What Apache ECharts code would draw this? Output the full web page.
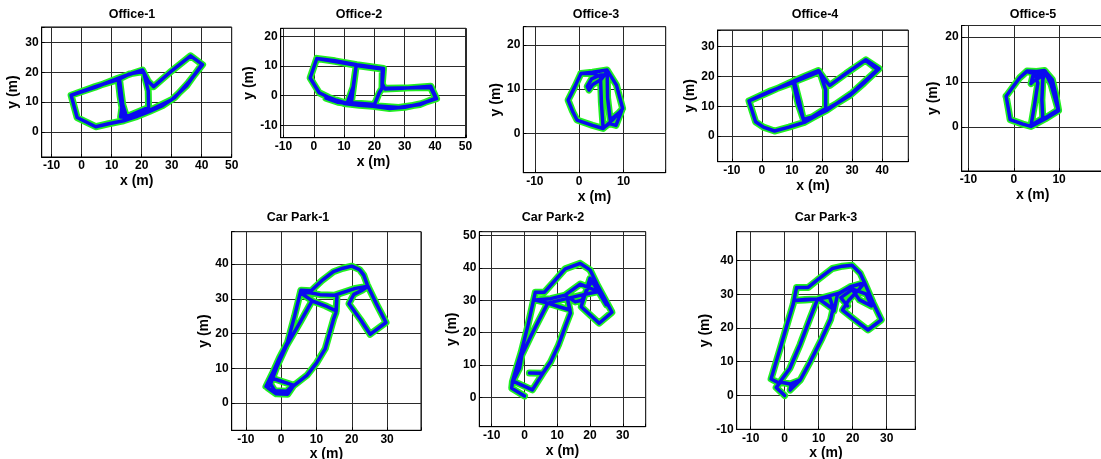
<!DOCTYPE html>
<html><head><meta charset="utf-8">
<script src="https://cdn.jsdelivr.net/npm/echarts@6/dist/echarts.min.js"></script>
<style>html,body{margin:0;padding:0;background:#fff}#c{width:1101px;height:459px}</style>
</head><body><div id="c"></div>
<script>
// ---- data (metres) ----
const titles = ['Office-1','Office-2','Office-3','Office-4','Office-5','Car Park-1','Car Park-2','Car Park-3'];
const office1 = [[-3.5,12.3],[-1.5,4.8],[4.7,1.7],[9,2.7],[14,3.7],[18,5],[22.5,6.8],[27,8.8],[31,11.5],[35.5,16.5],[40.3,22.6],[36.3,25.6],[30,20.5],[24,15.2],[22.2,17],[20.3,20.8],[15.5,19.2],[12.3,18.1],[4.5,15],[-3.5,12.3],[4.5,15.2],[12.2,17.6],[12.8,12],[13.6,7],[14.3,4],[14.6,6.2],[13.6,9.5],[13,5],[15.5,5.3],[22.3,8.2],[22.2,13.8],[20.6,20.3],[16,19.5],[12.6,17.8],[14.2,5.2],[19,6],[23,7.4],[30,10.8],[35,15.5],[39.8,22.3]];
const office2 = [[1,12.6],[-1.2,6],[1.8,1],[5,-0.6],[10,-2.6],[15,-3.2],[19.5,-3.6],[25,-4.3],[30,-3.9],[35,-2.8],[40.5,-1],[38.6,3.2],[31,2.6],[23.5,2.3],[22.6,4],[23,9.2],[14.2,10.5],[7,11.8],[1,12.6],[7,11.6],[14,10.3],[12.4,-2.4],[20,-3],[21.6,1],[22.5,2.5],[22.6,9],[14,10.2],[13,3],[11,-2.6],[7.5,-1.5],[4,-0.8],[8,-2.2],[12.6,-2.8],[20,-3.4],[28,-4],[35,-3],[40.2,-0.8],[38.5,2.8],[24,2.5]];
const office3 = [[0.4,13.5],[-1,10.5],[-2.5,7.5],[-1.5,5],[-0.5,3],[3,1.8],[5.4,1.1],[7.5,3],[9.8,5.6],[8.4,10.9],[6.3,14.3],[3,13.8],[0.4,13.5],[3,13.6],[4.8,12.8],[5,7],[5.4,1.2],[6.8,2.2],[8.3,1.8],[9.6,5.2],[7,3],[6.4,8],[6.3,14],[5,12.2],[3,11],[2.2,9.8],[1.8,10.6],[2.8,12.3],[4.8,13.2],[6.8,13.3]];
const office4 = [[-4.3,11.8],[-2.1,4.8],[0.5,3],[4.2,1.7],[9,3],[14.1,4.6],[17.5,6.5],[21.2,8.8],[25,11],[29.5,13.8],[34,17.8],[39,22.6],[34.6,25.6],[28,21],[22.6,17],[21.8,17.8],[18.8,22],[14,20],[10.2,18.3],[3,15],[-4.3,11.8],[3,15.2],[10.5,18],[12,11],[14,5],[15,5.3],[21.2,9.3],[21.2,15.5],[19.2,21.6],[10.8,18.2],[12.5,11.5],[13.8,5.6],[18,6.8],[21.5,8.6],[30,14.5],[38.5,22.3],[35,25]];
const office5 = [[-1.7,6.8],[-1.2,4],[-0.8,1.6],[2,0.6],[3.8,0.1],[7,1.8],[9.9,3.6],[9.2,7.5],[8.5,10.5],[6.8,12.5],[5,12.3],[2.9,12.4],[1.3,10.9],[-1.7,6.8],[1.3,10.9],[2.9,12.3],[4.6,11.8],[5.3,9.7],[4.6,5],[3.8,0.3],[5.2,1.2],[6.4,1.9],[6.2,6],[6.4,10.5],[7,12.3],[5.8,11],[4.4,10.2],[3.8,9.6],[4.2,11.3],[6.5,11.8],[7.2,11.5],[8.2,9.5],[9.8,3.8],[6.2,1.5]];
const carPark1 = [[-4.3,4.8],[-2.5,8.5],[-0.5,13],[1.8,17.5],[3.8,25],[5.6,32.5],[8.5,32.3],[11.5,35.2],[14.8,37.8],[17.5,38.8],[20,39.4],[22.2,38.4],[23.4,36.8],[24.4,34],[27,28.5],[29.7,23.2],[25.2,19.8],[22.5,24],[19.2,28.6],[20.6,31.3],[23,32.5],[24.6,33.6],[21,33],[18,32],[15,31],[11,31.2],[7.8,31.8],[5.8,31.5],[9,29.3],[12.5,28],[15.6,26.5],[15.8,30.6],[15.5,26],[14.8,24],[12.5,15.7],[10,11.5],[7.3,8],[3.5,5],[1.9,2.6],[-1.4,2.7],[-3.8,4.4],[-2.3,7.1],[3.4,5.2],[1.6,3.4],[-1.8,3.6],[-3,5.5],[-1.2,10.5],[1.5,16.5],[5.5,23.5],[8.8,29.5]];
const carPark2 = [[0,0.4],[-3.9,2.8],[-3.7,4.8],[-2.5,9],[-1,14],[1,22],[3.3,32.5],[6.1,32.5],[9,35.8],[12.4,39.7],[17,41.4],[20,39.4],[22.1,35],[24.5,30.5],[26.7,26.3],[22.8,22.9],[20,25.5],[17.3,28],[20,36.8],[22.5,33],[25,28.6],[22.6,32.7],[17,35],[12.4,31.6],[8,30.5],[3.3,30.1],[7.1,29.1],[10.5,28],[13.9,27],[13,31],[14,26],[12.5,22],[10.4,16.2],[8,11],[5.6,7.4],[1.5,7.5],[5.6,7.4],[2.4,2.3],[-3.5,5],[-1.5,9],[-0.8,13.1],[2,19],[4.5,24],[7.1,29.1],[17,31.5],[22.6,32.7],[20.5,36],[17.5,30],[15.5,29.5],[14,30.5]];
const carPark3 = [[0,0],[-2.5,2.4],[-1.5,3.6],[-4,4.9],[-2.8,9],[-1,15],[1,22],[2.5,27],[3.5,32],[6.9,32],[10,34.5],[14,37.6],[17,38.3],[19.8,38.6],[22.2,36.2],[23.5,33.4],[26,27.5],[28.4,22.4],[24.5,19.4],[20.5,22.5],[17,25.3],[18.9,28.3],[21.5,31],[23.5,33.4],[19.3,32.2],[16,30.3],[12,29.2],[9.7,28.6],[6,28.3],[2.7,28.1],[6,28.4],[9.7,28.6],[7.5,23],[4.5,15],[1.5,8],[-1.4,4],[1.6,3.4],[4.6,4.6],[1.6,1.6],[2,3.5],[4.6,4.6],[7.5,10],[11,17],[13.5,22.5],[14.2,25.6],[10,28.6],[13.2,29.2],[14.5,25],[15.5,29.8],[19.3,32.2],[22,28.3],[25.5,26.5],[24,30],[20,31.5],[16.5,29],[18.5,26.5]];
const paths = [office1, office2, office3, office4, office5, carPark1, carPark2, carPark3];

// ---- layout ----
const panels = [
  {g:[41.7,27,190,130],   x:[-13.3,50],  y:[-8.5,35.3], t:[132,15], yg:22},
  {g:[280.7,28.3,185.3,109.4], x:[-10.9,50.2], y:[-14.2,22.8], t:[359,15], yg:24},
  {g:[523.3,26.7,142.4,146], x:[-12.6,19.5], y:[-8.9,24.1], t:[596,15], yg:19},
  {g:[717.7,30,190.6,131.7], x:[-14.7,48.7], y:[-8.6,35.6], t:[815,15], yg:19},
  {g:[961.7,25.5,141.8,145.5], x:[-11.5,19.8], y:[-9.8,22.5], t:[1033,15], yg:22},
  {g:[231.7,231.7,189.3,198.6], x:[-14,39.6], y:[-7.8,49.3], t:[298,218], yg:21},
  {g:[479.3,231.7,166.4,195], x:[-13.8,37], y:[-9.1,51.2], t:[553,218], yg:10},
  {g:[736.7,231.7,178.6,197.6], x:[-14.1,38.4], y:[-10,48.5], t:[826,218], yg:25}
];
const FONT = '"Liberation Sans", Arial, sans-serif';
const fmt = v => (Math.abs(v/10 - Math.round(v/10)) < 1e-6 ? String(Math.round(v)) : '');
const grid = [], xAxis = [], yAxis = [], series = [], graphic = [];
panels.forEach((p, i) => {
  grid.push({left:p.g[0], top:p.g[1], width:p.g[2], height:p.g[3], show:true, borderColor:'#000', borderWidth:1, containLabel:false, outerBoundsMode:'none'});
  const common = {
    type:'value', minInterval:10, maxInterval:10, splitNumber:5,
    axisLine:{show:true, onZero:false, lineStyle:{color:'#000', width:1}},
    axisTick:{show:true, inside:true, length:3, lineStyle:{color:'#000'}},
    splitLine:{show:true, lineStyle:{color:'#2a2a2a', width:1}},
    axisLabel:{color:'#000', fontWeight:'bold', fontSize:12, fontFamily:FONT, margin:3, formatter:fmt, hideOverlap:false},
    nameLocation:'middle',
    nameTextStyle:{color:'#000', fontWeight:'bold', fontSize:14, fontFamily:FONT}
  };
  xAxis.push(Object.assign({}, common, {gridIndex:i, min:p.x[0], max:p.x[1], name:'x (m)', nameGap:17}));
  yAxis.push(Object.assign({}, common, {gridIndex:i, min:p.y[0], max:p.y[1], name:'y (m)', nameGap:p.yg, nameRotate:90}));
  series.push({type:'line', xAxisIndex:i, yAxisIndex:i, data:paths[i], showSymbol:false, symbol:'none', silent:true,
    lineStyle:{color:'#22ee22', width:7, join:'round', cap:'round'}, z:2});
  series.push({type:'line', xAxisIndex:i, yAxisIndex:i, data:paths[i], showSymbol:false, symbol:'none', silent:true,
    lineStyle:{color:'#0a0af0', width:3.5, join:'round', cap:'round'}, z:3});
  graphic.push({type:'text', x:p.t[0], y:p.t[1], style:{text:titles[i], textAlign:'center', textVerticalAlign:'middle', font:'bold 12.5px ' + FONT, fill:'#000'}});
});
const chart = echarts.init(document.getElementById('c'), null, {renderer:'canvas'});
chart.setOption({animation:false, backgroundColor:'#fff', grid, xAxis, yAxis, series, graphic});
</script></body></html>
